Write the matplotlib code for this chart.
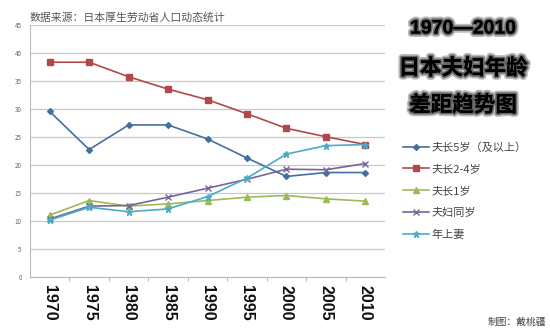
import matplotlib
matplotlib.use('Agg')
import matplotlib.pyplot as plt
import matplotlib.patheffects as pe

plt.rcParams['font.family'] = ['Noto Sans CJK SC', 'DejaVu Sans']

anios = ['1970', '1975', '1980', '1985', '1990', '1995', '2000', '2005', '2010']

marido_5_mas = [29.5, 22.7, 27.1, 27.1, 24.6, 21.2, 17.9, 18.6, 18.6]
marido_2_4 = [38.3, 38.3, 35.7, 33.5, 31.6, 29.1, 26.5, 25.0, 23.6]
marido_1 = [11.0, 13.6, 12.6, 13.0, 13.6, 14.2, 14.5, 13.9, 13.5]
misma_edad = [10.3, 12.6, 12.7, 14.2, 15.8, 17.4, 19.2, 19.1, 20.2]
esposa_mayor = [10.1, 12.4, 11.6, 12.1, 14.3, 17.6, 21.9, 23.4, 23.6]

series = [
    ('夫长5岁（及以上）', marido_5_mas, '#44709F', 'D', 3.0),
    ('夫长2-4岁', marido_2_4, '#B0494A', 's', 4.0),
    ('夫长1岁', marido_1, '#9BBB59', '^', 4.0),
    ('夫妇同岁', misma_edad, '#7A6398', 'x', 4.0),
    ('年上妻', esposa_mayor, '#4BACC6', '*', 5.0),
]

fig = plt.figure(figsize=(5.5, 3.3), dpi=100)
fig.patch.set_facecolor('white')
ax = fig.add_axes([30 / 550, 1 - 276.7 / 330, 355 / 550, 252 / 330])

x = list(range(len(anios)))
lineas = []
for nombre, valores, color, marcador, tam in series:
    l, = ax.plot(x, valores, color=color, lw=1.2, marker=marcador, ms=tam,
                 mew=1.0, label=nombre)
    lineas.append(l)

ax.set_ylim(0, 45)
ax.set_xlim(-0.5, 8.5)
ax.set_yticks(range(0, 46, 5))
ax.tick_params(axis='y', labelsize=4.5, colors='#666666', length=0, pad=6)
ax.yaxis.grid(True, color='#c8c8c8', lw=0.9)
ax.set_axisbelow(True)

# ticks between categories, labels centred on them
ax.set_xticks([i + 0.5 for i in range(len(anios) - 1)], minor=False)
ax.set_xticklabels([])
ax.set_xticks(x, minor=True)
ax.set_xticklabels(anios, minor=True, rotation=270, fontsize=11.5,
                   fontweight='bold', family=['Liberation Sans', 'DejaVu Sans'],
                   color='#111111')
ax.tick_params(axis='x', which='major', length=3, color='#bbbbbb')
ax.tick_params(axis='x', which='minor', length=0, pad=6)

for lado in ['top', 'right']:
    ax.spines[lado].set_visible(False)
ax.spines['left'].set_color('#bbbbbb')
ax.spines['bottom'].set_color('#bbbbbb')

fig.text(30 / 550, 1 - 18 / 330, '数据来源：日本厚生劳动省人口动态统计',
         fontsize=7.8, color='#555555', va='center', ha='left')

efecto = [pe.withStroke(linewidth=5, foreground='#bbbbbb'),
          pe.withStroke(linewidth=2.5, foreground='#666666'),
          pe.Normal()]
titulos = [('1970—2010', 29, 14, ['Liberation Sans', 'Noto Sans CJK SC']),
           ('日本夫妇年龄', 68, 15.5, ['Noto Sans CJK SC']),
           ('差距趋势图', 105, 15.5, ['Noto Sans CJK SC'])]
for texto, ypix, tam, familia in titulos:
    fig.text(463 / 550, 1 - ypix / 330, texto, fontsize=tam, fontweight='bold',
             family=familia, color='black', ha='center', va='center',
             path_effects=efecto)

leg = fig.legend(handles=lineas, loc='upper left',
                 bbox_to_anchor=(393 / 550, 1 - 132 / 330), frameon=False,
                 fontsize=8, labelspacing=1.05, handlelength=2.3,
                 handletextpad=0.3)
for t in leg.get_texts():
    t.set_color('#444444')

fig.text(546 / 550, 1 - 322 / 330, '制图：戴桃疆', fontsize=7, color='#444444',
         ha='right', va='center')

fig.savefig('out.png', dpi=100)
